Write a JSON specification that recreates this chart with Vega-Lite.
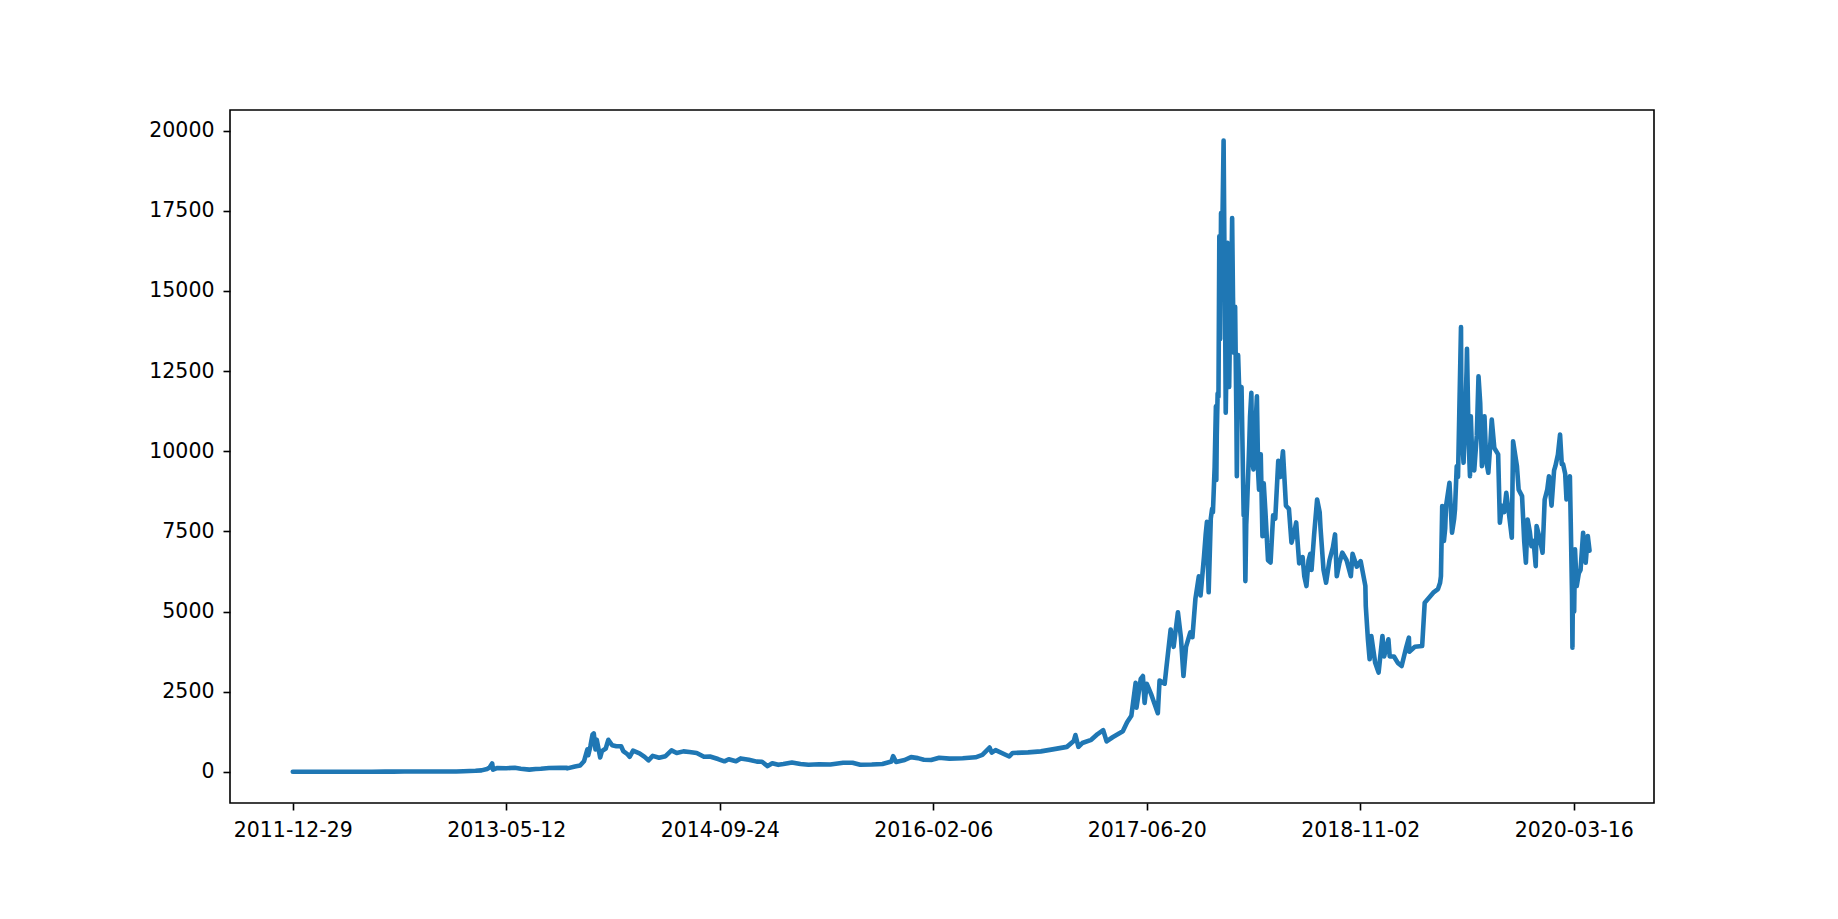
{
  "$schema": "https://vega.github.io/schema/vega-lite/v6.json",
  "autosize": {"type": "none"},
  "width": 1424,
  "height": 693,
  "padding": {"left": 230, "top": 110, "right": 184, "bottom": 116},
  "background": "white",
  "data": {"values": [
    {"date": "2011-12-29", "price": 4.2},
    {"date": "2012-01-10", "price": 6.5},
    {"date": "2012-02-01", "price": 5.8},
    {"date": "2012-03-01", "price": 4.9},
    {"date": "2012-04-01", "price": 4.9},
    {"date": "2012-05-01", "price": 5.0},
    {"date": "2012-06-01", "price": 5.3},
    {"date": "2012-07-01", "price": 6.7},
    {"date": "2012-08-01", "price": 9.4},
    {"date": "2012-08-16", "price": 13.5},
    {"date": "2012-08-20", "price": 8.0},
    {"date": "2012-09-15", "price": 11.8},
    {"date": "2012-10-15", "price": 11.8},
    {"date": "2012-11-15", "price": 11.0},
    {"date": "2012-12-15", "price": 13.4},
    {"date": "2013-01-15", "price": 14.5},
    {"date": "2013-02-01", "price": 20},
    {"date": "2013-02-15", "price": 27},
    {"date": "2013-03-01", "price": 34},
    {"date": "2013-03-15", "price": 47},
    {"date": "2013-03-28", "price": 89},
    {"date": "2013-04-03", "price": 135},
    {"date": "2013-04-09", "price": 266},
    {"date": "2013-04-11", "price": 70},
    {"date": "2013-04-20", "price": 120},
    {"date": "2013-05-12", "price": 115},
    {"date": "2013-06-01", "price": 128},
    {"date": "2013-06-15", "price": 100},
    {"date": "2013-07-05", "price": 70},
    {"date": "2013-07-20", "price": 90},
    {"date": "2013-08-01", "price": 97},
    {"date": "2013-08-20", "price": 120},
    {"date": "2013-09-15", "price": 130},
    {"date": "2013-10-01", "price": 125},
    {"date": "2013-10-02", "price": 110},
    {"date": "2013-10-20", "price": 170},
    {"date": "2013-11-01", "price": 200},
    {"date": "2013-11-10", "price": 330},
    {"date": "2013-11-18", "price": 700},
    {"date": "2013-11-20", "price": 520},
    {"date": "2013-11-25", "price": 800},
    {"date": "2013-11-30", "price": 1160},
    {"date": "2013-12-03", "price": 1200},
    {"date": "2013-12-07", "price": 700},
    {"date": "2013-12-10", "price": 1000},
    {"date": "2013-12-18", "price": 450},
    {"date": "2013-12-22", "price": 650},
    {"date": "2013-12-31", "price": 730},
    {"date": "2014-01-06", "price": 1000},
    {"date": "2014-01-15", "price": 830},
    {"date": "2014-01-25", "price": 800},
    {"date": "2014-02-05", "price": 800},
    {"date": "2014-02-10", "price": 650},
    {"date": "2014-02-20", "price": 550},
    {"date": "2014-02-25", "price": 470},
    {"date": "2014-03-05", "price": 660},
    {"date": "2014-03-20", "price": 580},
    {"date": "2014-04-01", "price": 470},
    {"date": "2014-04-10", "price": 360},
    {"date": "2014-04-20", "price": 500},
    {"date": "2014-05-05", "price": 440},
    {"date": "2014-05-20", "price": 490},
    {"date": "2014-06-03", "price": 670},
    {"date": "2014-06-15", "price": 590},
    {"date": "2014-07-01", "price": 640},
    {"date": "2014-07-15", "price": 620},
    {"date": "2014-08-01", "price": 590},
    {"date": "2014-08-18", "price": 470},
    {"date": "2014-09-01", "price": 480},
    {"date": "2014-09-20", "price": 400},
    {"date": "2014-10-05", "price": 330},
    {"date": "2014-10-15", "price": 395},
    {"date": "2014-11-01", "price": 330},
    {"date": "2014-11-12", "price": 420},
    {"date": "2014-12-01", "price": 380},
    {"date": "2014-12-20", "price": 320},
    {"date": "2015-01-01", "price": 315},
    {"date": "2015-01-14", "price": 180},
    {"date": "2015-01-25", "price": 270},
    {"date": "2015-02-08", "price": 220},
    {"date": "2015-02-20", "price": 245},
    {"date": "2015-03-12", "price": 295},
    {"date": "2015-04-01", "price": 245},
    {"date": "2015-04-20", "price": 225},
    {"date": "2015-05-15", "price": 240},
    {"date": "2015-06-10", "price": 230},
    {"date": "2015-07-10", "price": 285},
    {"date": "2015-08-01", "price": 285},
    {"date": "2015-08-19", "price": 225},
    {"date": "2015-09-15", "price": 230},
    {"date": "2015-10-10", "price": 245},
    {"date": "2015-10-31", "price": 325},
    {"date": "2015-11-04", "price": 490},
    {"date": "2015-11-11", "price": 310},
    {"date": "2015-12-01", "price": 370},
    {"date": "2015-12-16", "price": 460},
    {"date": "2016-01-01", "price": 430},
    {"date": "2016-01-15", "price": 380},
    {"date": "2016-02-01", "price": 370},
    {"date": "2016-02-20", "price": 440},
    {"date": "2016-03-15", "price": 415},
    {"date": "2016-04-15", "price": 425},
    {"date": "2016-05-15", "price": 455},
    {"date": "2016-05-31", "price": 530},
    {"date": "2016-06-17", "price": 760},
    {"date": "2016-06-22", "price": 600},
    {"date": "2016-07-01", "price": 680},
    {"date": "2016-08-02", "price": 480},
    {"date": "2016-08-10", "price": 590},
    {"date": "2016-09-15", "price": 610},
    {"date": "2016-10-15", "price": 640},
    {"date": "2016-11-15", "price": 710},
    {"date": "2016-12-15", "price": 780},
    {"date": "2016-12-31", "price": 960},
    {"date": "2017-01-04", "price": 1150},
    {"date": "2017-01-11", "price": 780},
    {"date": "2017-01-20", "price": 900},
    {"date": "2017-02-10", "price": 1000},
    {"date": "2017-02-25", "price": 1180},
    {"date": "2017-03-10", "price": 1300},
    {"date": "2017-03-18", "price": 950},
    {"date": "2017-04-01", "price": 1080},
    {"date": "2017-04-25", "price": 1270},
    {"date": "2017-05-05", "price": 1550},
    {"date": "2017-05-15", "price": 1750},
    {"date": "2017-05-25", "price": 2780},
    {"date": "2017-05-27", "price": 2000},
    {"date": "2017-06-06", "price": 2900},
    {"date": "2017-06-11", "price": 2990},
    {"date": "2017-06-15", "price": 2150},
    {"date": "2017-06-20", "price": 2750},
    {"date": "2017-07-01", "price": 2400},
    {"date": "2017-07-16", "price": 1830},
    {"date": "2017-07-20", "price": 2850},
    {"date": "2017-08-01", "price": 2750},
    {"date": "2017-08-05", "price": 3250},
    {"date": "2017-08-15", "price": 4440},
    {"date": "2017-08-22", "price": 3900},
    {"date": "2017-09-01", "price": 4980},
    {"date": "2017-09-08", "price": 4200},
    {"date": "2017-09-14", "price": 2990},
    {"date": "2017-09-20", "price": 3900},
    {"date": "2017-09-30", "price": 4350},
    {"date": "2017-10-05", "price": 4200},
    {"date": "2017-10-12", "price": 5400},
    {"date": "2017-10-20", "price": 6100},
    {"date": "2017-10-24", "price": 5500},
    {"date": "2017-11-01", "price": 6700},
    {"date": "2017-11-05", "price": 7400},
    {"date": "2017-11-08", "price": 7800},
    {"date": "2017-11-10", "price": 6600},
    {"date": "2017-11-12", "price": 5600},
    {"date": "2017-11-17", "price": 7900},
    {"date": "2017-11-20", "price": 8200},
    {"date": "2017-11-22", "price": 8100},
    {"date": "2017-11-26", "price": 9500},
    {"date": "2017-11-29", "price": 11400},
    {"date": "2017-11-30", "price": 9100},
    {"date": "2017-12-01", "price": 10500},
    {"date": "2017-12-03", "price": 11800},
    {"date": "2017-12-05", "price": 11700},
    {"date": "2017-12-07", "price": 16700},
    {"date": "2017-12-09", "price": 13500},
    {"date": "2017-12-11", "price": 17430},
    {"date": "2017-12-13", "price": 16000},
    {"date": "2017-12-15", "price": 17800},
    {"date": "2017-12-17", "price": 19690},
    {"date": "2017-12-19", "price": 16200},
    {"date": "2017-12-20", "price": 15500},
    {"date": "2017-12-22", "price": 11200},
    {"date": "2017-12-24", "price": 13000},
    {"date": "2017-12-26", "price": 16500},
    {"date": "2017-12-28", "price": 14000},
    {"date": "2017-12-30", "price": 12000},
    {"date": "2018-01-02", "price": 14800},
    {"date": "2018-01-04", "price": 15200},
    {"date": "2018-01-06", "price": 17270},
    {"date": "2018-01-08", "price": 14800},
    {"date": "2018-01-10", "price": 13070},
    {"date": "2018-01-13", "price": 14500},
    {"date": "2018-01-16", "price": 11000},
    {"date": "2018-01-17", "price": 9220},
    {"date": "2018-01-20", "price": 13000},
    {"date": "2018-01-24", "price": 11300},
    {"date": "2018-01-28", "price": 12000},
    {"date": "2018-02-02", "price": 8000},
    {"date": "2018-02-04", "price": 8200},
    {"date": "2018-02-06", "price": 5950},
    {"date": "2018-02-08", "price": 7700},
    {"date": "2018-02-10", "price": 8300},
    {"date": "2018-02-15", "price": 10200},
    {"date": "2018-02-17", "price": 11100},
    {"date": "2018-02-20", "price": 11820},
    {"date": "2018-02-22", "price": 9700},
    {"date": "2018-02-25", "price": 9430},
    {"date": "2018-02-28", "price": 10300},
    {"date": "2018-03-05", "price": 11710},
    {"date": "2018-03-08", "price": 9300},
    {"date": "2018-03-10", "price": 8800},
    {"date": "2018-03-14", "price": 9900},
    {"date": "2018-03-18", "price": 7350},
    {"date": "2018-03-21", "price": 9000},
    {"date": "2018-03-25", "price": 8100},
    {"date": "2018-03-31", "price": 6600},
    {"date": "2018-04-06", "price": 6530},
    {"date": "2018-04-12", "price": 8000},
    {"date": "2018-04-17", "price": 7900},
    {"date": "2018-04-24", "price": 9700},
    {"date": "2018-04-29", "price": 9200},
    {"date": "2018-05-05", "price": 10000},
    {"date": "2018-05-12", "price": 8300},
    {"date": "2018-05-19", "price": 8200},
    {"date": "2018-05-25", "price": 7150},
    {"date": "2018-06-01", "price": 7500},
    {"date": "2018-06-05", "price": 7780},
    {"date": "2018-06-12", "price": 6500},
    {"date": "2018-06-20", "price": 6700},
    {"date": "2018-06-24", "price": 6100},
    {"date": "2018-06-29", "price": 5795},
    {"date": "2018-07-04", "price": 6600},
    {"date": "2018-07-08", "price": 6800},
    {"date": "2018-07-11", "price": 6300},
    {"date": "2018-07-17", "price": 7400},
    {"date": "2018-07-24", "price": 8495},
    {"date": "2018-07-30", "price": 8100},
    {"date": "2018-08-01", "price": 7600},
    {"date": "2018-08-08", "price": 6300},
    {"date": "2018-08-14", "price": 5900},
    {"date": "2018-08-22", "price": 6600},
    {"date": "2018-08-30", "price": 7000},
    {"date": "2018-09-04", "price": 7405},
    {"date": "2018-09-08", "price": 6100},
    {"date": "2018-09-14", "price": 6500},
    {"date": "2018-09-21", "price": 6835},
    {"date": "2018-10-01", "price": 6600},
    {"date": "2018-10-11", "price": 6100},
    {"date": "2018-10-15", "price": 6800},
    {"date": "2018-10-25", "price": 6400},
    {"date": "2018-11-03", "price": 6573},
    {"date": "2018-11-14", "price": 5800},
    {"date": "2018-11-15", "price": 5170},
    {"date": "2018-11-20", "price": 4134},
    {"date": "2018-11-24", "price": 3511},
    {"date": "2018-11-28", "price": 4237},
    {"date": "2018-12-07", "price": 3400},
    {"date": "2018-12-15", "price": 3097},
    {"date": "2018-12-24", "price": 4237},
    {"date": "2018-12-28", "price": 3600},
    {"date": "2019-01-07", "price": 4134},
    {"date": "2019-01-10", "price": 3600},
    {"date": "2019-01-20", "price": 3600},
    {"date": "2019-01-29", "price": 3400},
    {"date": "2019-02-07", "price": 3303},
    {"date": "2019-02-18", "price": 3900},
    {"date": "2019-02-24", "price": 4187},
    {"date": "2019-02-25", "price": 3750},
    {"date": "2019-03-10", "price": 3900},
    {"date": "2019-03-27", "price": 3925},
    {"date": "2019-04-02", "price": 5277},
    {"date": "2019-04-10", "price": 5400},
    {"date": "2019-04-22", "price": 5589},
    {"date": "2019-05-03", "price": 5700},
    {"date": "2019-05-08", "price": 5900},
    {"date": "2019-05-10", "price": 6100},
    {"date": "2019-05-13", "price": 8287},
    {"date": "2019-05-15", "price": 8100},
    {"date": "2019-05-17", "price": 7200},
    {"date": "2019-05-20", "price": 7600},
    {"date": "2019-05-22", "price": 8300},
    {"date": "2019-05-30", "price": 9015},
    {"date": "2019-06-05", "price": 7458},
    {"date": "2019-06-10", "price": 7900},
    {"date": "2019-06-12", "price": 8200},
    {"date": "2019-06-16", "price": 9533},
    {"date": "2019-06-19", "price": 9200},
    {"date": "2019-06-22", "price": 11196},
    {"date": "2019-06-26", "price": 13875},
    {"date": "2019-06-27", "price": 10800},
    {"date": "2019-07-02", "price": 9639},
    {"date": "2019-07-05", "price": 10800},
    {"date": "2019-07-09", "price": 12500},
    {"date": "2019-07-10", "price": 13190},
    {"date": "2019-07-14", "price": 10300},
    {"date": "2019-07-17", "price": 9221},
    {"date": "2019-07-19", "price": 11090},
    {"date": "2019-07-22", "price": 9900},
    {"date": "2019-07-27", "price": 9400},
    {"date": "2019-08-02", "price": 10500},
    {"date": "2019-08-06", "price": 12336},
    {"date": "2019-08-10", "price": 11500},
    {"date": "2019-08-14", "price": 9533},
    {"date": "2019-08-20", "price": 11090},
    {"date": "2019-08-24", "price": 9700},
    {"date": "2019-08-29", "price": 9327},
    {"date": "2019-09-03", "price": 10300},
    {"date": "2019-09-06", "price": 10987},
    {"date": "2019-09-12", "price": 10100},
    {"date": "2019-09-21", "price": 9900},
    {"date": "2019-09-25", "price": 7769},
    {"date": "2019-09-30", "price": 8300},
    {"date": "2019-10-05", "price": 8100},
    {"date": "2019-10-10", "price": 8700},
    {"date": "2019-10-15", "price": 8200},
    {"date": "2019-10-23", "price": 7302},
    {"date": "2019-10-26", "price": 10311},
    {"date": "2019-11-04", "price": 9533},
    {"date": "2019-11-08", "price": 8800},
    {"date": "2019-11-16", "price": 8598},
    {"date": "2019-11-21", "price": 7200},
    {"date": "2019-11-25", "price": 6523},
    {"date": "2019-11-29", "price": 7872},
    {"date": "2019-12-04", "price": 7500},
    {"date": "2019-12-08", "price": 7040},
    {"date": "2019-12-13", "price": 7200},
    {"date": "2019-12-18", "price": 6417},
    {"date": "2019-12-20", "price": 7664},
    {"date": "2019-12-27", "price": 7300},
    {"date": "2020-01-03", "price": 6835},
    {"date": "2020-01-08", "price": 8495},
    {"date": "2020-01-14", "price": 8800},
    {"date": "2020-01-18", "price": 9221},
    {"date": "2020-01-24", "price": 8303},
    {"date": "2020-01-30", "price": 9400},
    {"date": "2020-02-02", "price": 9533},
    {"date": "2020-02-08", "price": 9900},
    {"date": "2020-02-13", "price": 10520},
    {"date": "2020-02-17", "price": 9600},
    {"date": "2020-02-20", "price": 9600},
    {"date": "2020-02-25", "price": 9300},
    {"date": "2020-02-28", "price": 8495},
    {"date": "2020-03-03", "price": 8700},
    {"date": "2020-03-07", "price": 9221},
    {"date": "2020-03-09", "price": 7800},
    {"date": "2020-03-12", "price": 5500},
    {"date": "2020-03-13", "price": 3875},
    {"date": "2020-03-14", "price": 5600},
    {"date": "2020-03-17", "price": 5000},
    {"date": "2020-03-19", "price": 6938},
    {"date": "2020-03-23", "price": 5795},
    {"date": "2020-03-28", "price": 6200},
    {"date": "2020-04-01", "price": 6300},
    {"date": "2020-04-07", "price": 7458},
    {"date": "2020-04-13", "price": 6523},
    {"date": "2020-04-18", "price": 7352},
    {"date": "2020-04-22", "price": 6900}
  ]},
  "mark": {"type": "line", "color": "#1f77b4", "strokeWidth": 4.6, "strokeJoin": "round", "strokeCap": "round", "clip": true},
  "encoding": {
    "x": {
      "field": "date",
      "type": "temporal",
      "scale": {
        "type": "utc",
        "domain": [
          {"year": 2011, "month": 8, "date": 4, "utc": true},
          {"year": 2020, "month": 9, "date": 20, "utc": true}
        ]
      },
      "axis": {
        "title": null,
        "grid": false,
        "domain": false,
        "labelExpr": "utcFormat(datum.value, '%Y-%m-%d')",
        "values": [
          {"year": 2011, "month": 12, "date": 29, "utc": true},
          {"year": 2013, "month": 5, "date": 12, "utc": true},
          {"year": 2014, "month": 9, "date": 24, "utc": true},
          {"year": 2016, "month": 2, "date": 6, "utc": true},
          {"year": 2017, "month": 6, "date": 20, "utc": true},
          {"year": 2018, "month": 11, "date": 2, "utc": true},
          {"year": 2020, "month": 3, "date": 16, "utc": true}
        ],
        "labelPadding": 10,
        "labelAngle": 0
      }
    },
    "y": {
      "field": "price",
      "type": "quantitative",
      "scale": {"domain": [-970, 20640], "nice": false, "zero": false},
      "axis": {
        "title": null,
        "grid": false,
        "domain": false,
        "format": "d",
        "values": [0, 2500, 5000, 7500, 10000, 12500, 15000, 17500, 20000],
        "labelPadding": 9
      }
    }
  },
  "config": {
    "font": "DejaVu Sans",
    "view": {"stroke": "black", "strokeWidth": 1.6},
    "axis": {
      "labelFont": "DejaVu Sans",
      "labelFontSize": 20.5,
      "labelColor": "black",
      "tickColor": "black",
      "tickSize": 7,
      "tickWidth": 1.6,
      "labelOverlap": false,
      "labelFlush": false
    }
  }
}
